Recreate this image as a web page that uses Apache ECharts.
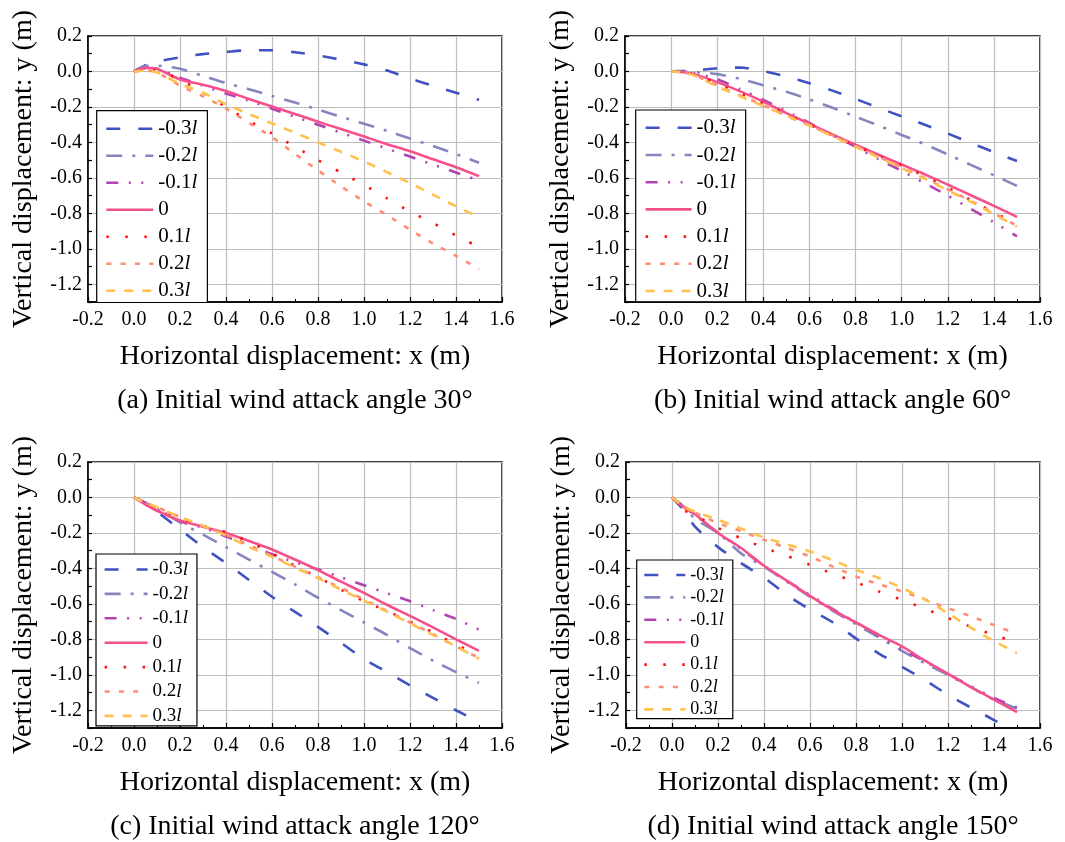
<!DOCTYPE html>
<html>
<head>
<meta charset="utf-8">
<script src="https://cdn.jsdelivr.net/npm/echarts@6/dist/echarts.min.js"></script>
<style>html,body{margin:0;padding:0;background:#fff}#c{width:1065px;height:842px}</style>
</head>
<body>
<div id="c"></div>
<script>
// ---------- data ----------
const seriesNames = ['-0.3l', '-0.2l', '-0.1l', '0', '0.1l', '0.2l', '0.3l'];
const xValues = [0, 0.05, 0.1, 0.2, 0.3, 0.4, 0.5, 0.6, 0.7, 0.8, 0.9, 1.0, 1.1, 1.2, 1.3, 1.4, 1.5];
const xTicks = [-0.2, 0.0, 0.2, 0.4, 0.6, 0.8, 1.0, 1.2, 1.4, 1.6];
const yTicks = [-1.2, -1.0, -0.8, -0.6, -0.4, -0.2, 0.0, 0.2];
const captions = ['(a) Initial wind attack angle 30°', '(b) Initial wind attack angle 60°',
                  '(c) Initial wind attack angle 120°', '(d) Initial wind attack angle 150°'];

// (a) 30°
const a_m03 = [0, 0.035, 0.055, 0.08, 0.098, 0.11, 0.12, 0.12, 0.108, 0.09, 0.066, 0.04, 0.005, -0.04, -0.08, -0.12, -0.16];
const a_m02 = [0, 0.03, 0.032, 0.015, -0.025, -0.065, -0.1, -0.138, -0.175, -0.215, -0.255, -0.295, -0.335, -0.378, -0.42, -0.466, -0.515];
const a_m01 = [0, 0.018, 0.015, -0.035, -0.08, -0.125, -0.165, -0.21, -0.255, -0.3, -0.345, -0.39, -0.435, -0.48, -0.525, -0.57, -0.615];
const a_0   = [0, 0.02, 0.015, -0.045, -0.075, -0.11, -0.155, -0.197, -0.24, -0.283, -0.325, -0.367, -0.41, -0.45, -0.495, -0.54, -0.59];
const a_p01 = [0, 0.01, 0.005, -0.045, -0.12, -0.2, -0.28, -0.35, -0.425, -0.5, -0.57, -0.64, -0.715, -0.79, -0.855, -0.925, -0.99];
const a_p02 = [0, 0.005, -0.005, -0.08, -0.14, -0.21, -0.29, -0.37, -0.465, -0.558, -0.648, -0.733, -0.81, -0.892, -0.97, -1.04, -1.115];
const a_p03 = [0, 0.005, -0.005, -0.07, -0.12, -0.185, -0.24, -0.293, -0.345, -0.4, -0.453, -0.508, -0.568, -0.63, -0.695, -0.76, -0.822];
// (b) 60°
const b_m03 = [0, 0.003, 0.005, 0.018, 0.022, 0.002, -0.028, -0.066, -0.108, -0.155, -0.205, -0.253, -0.3, -0.35, -0.403, -0.455, -0.505];
const b_m02 = [0, 0.0, -0.003, -0.015, -0.042, -0.078, -0.115, -0.158, -0.205, -0.255, -0.305, -0.358, -0.41, -0.468, -0.527, -0.585, -0.645];
const b_m01 = [0, -0.003, -0.01, -0.045, -0.1, -0.16, -0.225, -0.29, -0.36, -0.425, -0.495, -0.56, -0.63, -0.7, -0.775, -0.85, -0.93];
const b_0   = [0, -0.003, -0.015, -0.06, -0.112, -0.17, -0.235, -0.295, -0.355, -0.413, -0.47, -0.525, -0.58, -0.638, -0.698, -0.758, -0.82];
const b_p01 = [0, -0.003, -0.018, -0.068, -0.125, -0.18, -0.24, -0.3, -0.36, -0.42, -0.475, -0.53, -0.59, -0.655, -0.725, -0.795, -0.86];
const b_p02 = [0, -0.005, -0.02, -0.078, -0.135, -0.19, -0.25, -0.305, -0.36, -0.42, -0.48, -0.54, -0.6, -0.665, -0.73, -0.8, -0.87];
const b_p03 = [0, -0.005, -0.022, -0.085, -0.14, -0.195, -0.25, -0.305, -0.365, -0.425, -0.485, -0.545, -0.605, -0.67, -0.735, -0.805, -0.875];
// (c) 120°
const c_m03 = [0, -0.03, -0.08, -0.18, -0.28, -0.37, -0.465, -0.56, -0.645, -0.73, -0.82, -0.91, -0.985, -1.06, -1.13, -1.2, -1.265];
const c_m02 = [0, -0.03, -0.065, -0.14, -0.21, -0.28, -0.35, -0.42, -0.49, -0.565, -0.635, -0.705, -0.775, -0.85, -0.92, -0.985, -1.045];
const c_m01 = [0, -0.03, -0.06, -0.135, -0.17, -0.22, -0.27, -0.32, -0.365, -0.405, -0.45, -0.495, -0.54, -0.585, -0.635, -0.685, -0.745];
const c_0   = [0, -0.04, -0.075, -0.13, -0.165, -0.2, -0.245, -0.293, -0.35, -0.41, -0.475, -0.538, -0.605, -0.668, -0.733, -0.8, -0.865];
const c_p01 = [0, -0.03, -0.06, -0.115, -0.16, -0.195, -0.25, -0.315, -0.385, -0.45, -0.52, -0.585, -0.64, -0.7, -0.76, -0.83, -0.885];
const c_p02 = [0, -0.03, -0.055, -0.11, -0.16, -0.21, -0.27, -0.33, -0.39, -0.45, -0.51, -0.575, -0.64, -0.705, -0.77, -0.84, -0.905];
const c_p03 = [0, -0.03, -0.055, -0.11, -0.16, -0.215, -0.28, -0.335, -0.395, -0.455, -0.52, -0.582, -0.645, -0.71, -0.775, -0.84, -0.91];
// (d) 150°
const d_m03 = [0, -0.07, -0.165, -0.28, -0.37, -0.452, -0.55, -0.632, -0.705, -0.795, -0.88, -0.955, -1.03, -1.113, -1.185, -1.255, -1.325];
const d_m02 = [0, -0.05, -0.12, -0.2, -0.315, -0.39, -0.475, -0.56, -0.64, -0.715, -0.79, -0.865, -0.935, -1.0, -1.07, -1.14, -1.19];
const d_m01 = [0, -0.05, -0.1, -0.2, -0.29, -0.385, -0.47, -0.55, -0.63, -0.705, -0.78, -0.855, -0.925, -0.995, -1.065, -1.13, -1.185];
const d_0   = [0, -0.055, -0.095, -0.2, -0.285, -0.385, -0.47, -0.555, -0.635, -0.705, -0.775, -0.84, -0.92, -0.995, -1.07, -1.14, -1.21];
const d_p01 = [0, -0.07, -0.1, -0.172, -0.23, -0.283, -0.33, -0.38, -0.43, -0.478, -0.53, -0.578, -0.628, -0.68, -0.73, -0.775, -0.82];
const d_p02 = [0, -0.05, -0.085, -0.145, -0.19, -0.239, -0.285, -0.333, -0.39, -0.446, -0.49, -0.53, -0.575, -0.625, -0.67, -0.72, -0.77];
const d_p03 = [0, -0.05, -0.08, -0.126, -0.175, -0.226, -0.265, -0.305, -0.355, -0.408, -0.455, -0.51, -0.575, -0.653, -0.735, -0.81, -0.878];

const panels = [
  [a_m03, a_m02, a_m01, a_0, a_p01, a_p02, a_p03],
  [b_m03, b_m02, b_m01, b_0, b_p01, b_p02, b_p03],
  [c_m03, c_m02, c_m01, c_0, c_p01, c_p02, c_p03],
  [d_m03, d_m02, d_m01, d_0, d_p01, d_p02, d_p03]
];

// ---------- styles ----------
const FONT = "'Liberation Serif', 'Times New Roman', serif";
const colors = ['#4052C2', '#8585C0', '#B244B2', '#F5508C', '#FF1010', '#FF8C72', '#FFC04E'];
const dashes = [[14, 18], [16, 10, 3, 10], [12, 10.5, 2, 10.5, 2, 10.5], 'solid', [2.5, 16.5], [5, 9.3], [9, 9]];

const grids = [
  {left: 88, top: 36, width: 414, height: 266},
  {left: 625, top: 36, width: 415, height: 266},
  {left: 88, top: 462, width: 414, height: 266},
  {left: 626, top: 462, width: 414, height: 266}
];
const legendCfg = [
  {left: 96.7, top: 110.7, iw: 47, fs: 21, ih: 20, gap: 6.0, pad: [7.6, 10, 1.2, 8.3]},
  {left: 635.7, top: 110, iw: 46, fs: 21, ih: 20, gap: 6.2, pad: [7.3, 10, 0.3, 8.6]},
  {left: 96, top: 554, iw: 43, fs: 19, ih: 18, gap: 5.4, pad: [6, 9, 0.5, 7.3]},
  {left: 636.7, top: 560, iw: 41, fs: 18, ih: 18, gap: 4.4, pad: [6, 9, 0.3, 6.3]}
];

const fmtNum = v => Math.abs(v) < 1e-9 ? '0.0' : v.toFixed(1);

const xAxis = [], yAxis = [], series = [], legend = [], graphic = [];
grids.forEach((g, p) => {
  xAxis.push({
    type: 'value', gridIndex: p, min: xTicks[0], max: xTicks[xTicks.length - 1], interval: 0.2,
    name: 'Horizontal displacement: x (m)', nameLocation: 'middle', nameGap: 41,
    nameTextStyle: {fontFamily: FONT, fontSize: 28, color: '#000'},
    axisLine: {show: true, onZero: false, lineStyle: {color: '#000', width: 1.5}},
    axisTick: {show: true, inside: true, length: 5, lineStyle: {color: '#000', width: 1.2}},
    minorTick: {show: true, splitNumber: 2, length: 3, lineStyle: {color: '#000', width: 1}},
    axisLabel: {fontFamily: FONT, fontSize: 20, color: '#000', margin: 8, formatter: fmtNum},
    splitLine: {show: true, lineStyle: {color: '#bdbdbd', width: 1.2}}
  });
  yAxis.push({
    type: 'value', gridIndex: p, min: -1.3, max: yTicks[yTicks.length - 1], interval: 0.1,
    name: 'Vertical displacement: y (m)', nameLocation: 'middle', nameGap: 50,
    nameTextStyle: {fontFamily: FONT, fontSize: 28, color: '#000'},
    axisLine: {show: true, onZero: false, lineStyle: {color: '#000', width: 1.5}},
    axisTick: {show: true, inside: true, length: 4, lineStyle: {color: '#000', width: 1.2}},
    axisLabel: {fontFamily: FONT, fontSize: 20, color: '#000', margin: 6,
      formatter: v => (Math.round(v * 10) % 2 === 0 && yTicks.some(t => Math.abs(t - v) < 1e-6)) ? fmtNum(v) : ''},
    splitLine: {show: true, lineStyle: {color: ['transparent', '#bdbdbd'], width: 1.2}}
  });
  panels[p].forEach((ys, s) => {
    series.push({
      type: 'line', name: seriesNames[s], xAxisIndex: p, yAxisIndex: p,
      data: xValues.map((x, i) => [x, ys[i]]),
      symbol: 'none', smooth: 0.25, clip: true,
      lineStyle: {color: colors[s], width: 2.6, type: dashes[s]},
      itemStyle: {color: colors[s]},
      emphasis: {disabled: true}
    });
  });
  const L = legendCfg[p];
  legend.push({
    orient: 'vertical', left: L.left, top: L.top, data: seriesNames,
    itemWidth: L.iw, itemHeight: L.ih, itemGap: L.gap, padding: L.pad,
    backgroundColor: '#fff', borderColor: '#000', borderWidth: 1.2, borderRadius: 0,
    selectedMode: false,
    itemStyle: {opacity: 0, borderWidth: 0},
    lineStyle: {width: 2.6},
    formatter: n => n.endsWith('l') ? '{n|' + n.slice(0, -1) + '}{i|l}' : '{n|' + n + '}',
    textStyle: {fontFamily: FONT, fontSize: L.fs, color: '#000', lineHeight: L.ih,
      rich: {
        n: {fontFamily: FONT, fontSize: L.fs, color: '#000', lineHeight: L.ih},
        i: {fontFamily: FONT, fontSize: L.fs, color: '#000', fontStyle: 'italic', lineHeight: L.ih}
      }}
  });
  graphic.push({
    type: 'text', x: g.left + g.width / 2, y: g.top + g.height + 99,
    style: {text: captions[p], font: '28px ' + FONT, fill: '#000', align: 'center', verticalAlign: 'middle'}
  });
});

const chart = echarts.init(document.getElementById('c'), null, {renderer: 'canvas'});
chart.setOption({
  animation: false,
  backgroundColor: '#fff',
  grid: grids.map(g => Object.assign({show: true, borderColor: '#000', borderWidth: 1.5, backgroundColor: 'transparent'}, g)),
  xAxis, yAxis, series, legend, graphic
});
</script>
</body>
</html>
